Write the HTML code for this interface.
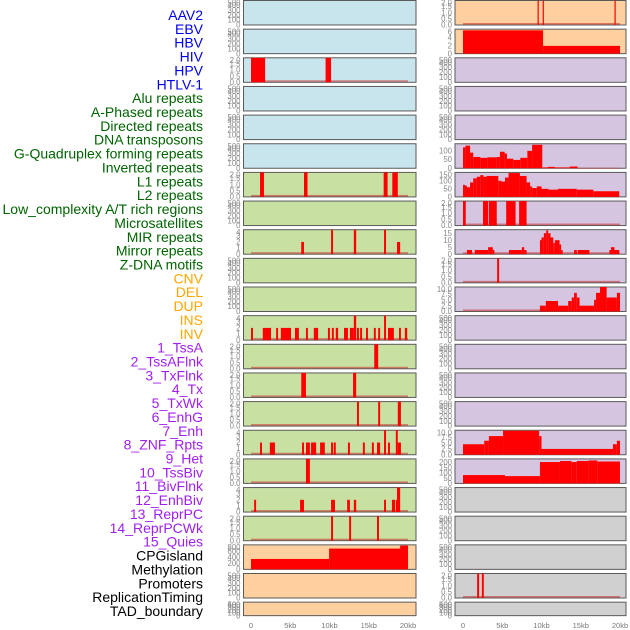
<!DOCTYPE html>
<html><head><meta charset="utf-8">
<style>
html,body{margin:0;padding:0;background:#fff;}
svg{display:block;}
.lab{font-family:"Liberation Sans",sans-serif;font-size:14px;}
.tk{font-family:"Liberation Sans",sans-serif;font-size:7.8px;fill:#888;}
.ax{font-family:"Liberation Sans",sans-serif;font-size:7.5px;fill:#777;}
</style></head>
<body>
<svg id="chart" width="630" height="630" viewBox="0 0 630 630" xmlns="http://www.w3.org/2000/svg">
<g id="labels"></g>
<g id="panels"></g>
<g id="xaxes"></g>
</svg>
<script>
// ---- labels ----
const labelNames = ["AAV2","EBV","HBV","HIV","HPV","HTLV-1","Alu repeats","A-Phased repeats","Directed repeats","DNA transposons","G-Quadruplex forming repeats","Inverted repeats","L1 repeats","L2 repeats","Low_complexity A/T rich regions","Microsatellites","MIR repeats","Mirror repeats","Z-DNA motifs","CNV","DEL","DUP","INS","INV","1_TssA","2_TssAFlnk","3_TxFlnk","4_Tx","5_TxWk","6_EnhG","7_Enh","8_ZNF_Rpts","9_Het","10_TssBiv","11_BivFlnk","12_EnhBiv","13_ReprPC","14_ReprPCWk","15_Quies","CPGisland","Methylation","Promoters","ReplicationTiming","TAD_boundary"];
const labelGroups = [6,13,5,15,5];
const groupColors = ["#0000ee","#006400","#ffa500","#a020f0","#000000"];

// ---- x axis ----
const xTicks = [0,5,10,15,20];
const xTickLabels = ["0","5kb","10kb","15kb","20kb"];

// ---- y tick sets ----
const ticks500 = [0,100,200,300,400,500];
const ticks2 = [0,0.5,1,1.5,2];
const ticks4 = [0,1,2,3,4];
const ticks6 = [0,2,4,6];
const ticks150 = [0,50,100,150];
const ticksGq = [0,50,100];
const ticks15 = [0,5,10,15];
const ticks10 = [0,2.5,5,7.5,10];
const ticks200 = [0,50,100,150,200];
const ticks800 = [0,200,400,600,800];

// ---- series: [startKb, endKb, value] ----
const hivL = [[0,1.8,2],[9.5,10.2,2]];
const l1L = [[1.15,1.65,2],[6.75,7.2,2],[16.9,17.4,2],[18.0,18.7,2]];
const mirL = [[6.4,6.75,2],[10.2,10.45,4],[13.1,13.4,4],[16.95,17.2,4],[18.6,19.0,2]];
const insL = [[0,0.25,2],[1.5,2.55,2],[3.2,3.45,2],[3.8,5.1,2],[5.6,6.1,2],[7.0,7.25,2],[8.0,8.55,2],[9.8,10.05,2],[10.3,10.55,2],[10.8,11.1,2],[11.85,12.35,2],[12.6,13.1,2],[13.1,13.4,4],[13.5,13.75,2],[13.9,14.15,2],[14.65,14.9,2],[15.65,15.9,2],[16.2,16.45,2],[16.95,17.2,4],[17.45,18.2,2],[18.85,19.1,2],[19.6,19.9,2]];
const tssaL = [[15.7,16.2,2]];
const txflnkL = [[6.4,7.0,2],[13.0,13.4,2]];
const txwkL = [[13.5,13.75,2],[16.2,16.45,2],[18.7,19.1,2]];
const enhL = [[1.15,1.4,2],[2.4,3.05,2],[6.5,6.75,2],[7.0,7.5,2],[7.65,8.3,2],[8.8,9.4,2],[10.2,10.45,2],[10.55,10.8,2],[12.35,12.6,2],[14.25,14.5,2],[15.4,15.65,2],[16.05,16.45,2],[16.95,17.2,4],[17.45,17.7,2],[18.45,18.7,4],[18.7,19.1,2]];
const hetL = [[7.0,7.5,2]];
const bivflnkL = [[0.4,0.65,2],[6.25,6.75,2],[10.2,10.7,2],[12.25,12.6,2],[13.1,13.4,2],[16.95,17.2,2],[17.95,18.35,2],[18.45,18.7,2],[18.6,19.0,4]];
const reprpcL = [[10.2,10.45,2],[12.5,12.75,2],[16.05,16.3,2]];
const cpgL = [[0,9.95,350],[9.95,20,700],[19.0,20,800]];

const aav2R = [[9.5,9.65,2],[10.15,10.3,2],[19.3,19.45,2]];
const ebvR = [[0,10.2,6],[10.2,20,2]];
const gquadR = [[0,0.3,120],[0.3,0.9,130],[0.9,1.3,90],[1.3,2.2,65],[2.2,3.1,60],[3.1,4.3,63],[4.3,4.7,65],[4.7,5.3,95],[5.3,5.6,85],[5.6,6.4,55],[6.4,7.3,48],[7.3,8.2,60],[8.2,8.8,100],[8.8,10.1,135],[10.1,10.8,5],[10.8,11.7,8],[11.7,13.6,5],[13.6,14.6,10],[14.6,19.9,2]];
const l1R = [[0,0.25,75],[0.25,0.5,70],[0.5,0.9,60],[0.9,1.3,90],[1.3,1.75,115],[1.75,2.2,125],[2.2,2.6,135],[2.6,3.0,125],[3.0,4.5,130],[4.5,4.9,100],[4.9,5.35,95],[5.35,5.8,120],[5.8,7.25,148],[7.25,8.1,130],[8.1,8.55,90],[8.55,8.8,65],[8.8,9.4,55],[9.4,10.0,65],[10.0,10.9,50],[10.9,12.1,45],[12.1,14.5,50],[14.5,16.6,45],[16.6,19.9,35]];
const lowcR = [[0,0.35,2],[2.55,3.2,2],[3.3,4.3,2],[5.5,6.7,2],[7.15,8.1,2]];
const mirR = [[0.5,1.15,3],[1.5,3.2,3],[3.2,3.8,5],[3.8,4.0,3],[5.85,7.5,3],[7.5,7.8,5],[7.8,8.1,3],[9.8,10.0,10],[10.0,10.3,12],[10.3,10.6,15],[10.6,10.85,17],[10.85,11.15,15],[11.15,11.5,12],[11.5,11.7,8],[11.7,12.3,10],[12.3,12.5,7],[12.5,12.7,3],[14.15,14.5,3],[14.6,16.1,3],[18.65,18.85,3],[18.85,19.3,5],[19.3,19.9,3]];
const mirrorR = [[4.35,4.6,2]];
const zdnaR = [[9.8,10.55,2.5],[10.55,12.1,4.5],[12.1,13.4,2.5],[13.4,13.85,4.5],[13.85,14.15,6],[14.15,14.5,8],[14.5,14.85,6],[14.85,16.7,2.5],[16.7,16.95,5],[16.95,17.45,8],[17.45,18.3,10.5],[18.3,19.6,6],[19.6,20,8]];
const enhR = [[0,2.7,4.5],[2.7,3.3,6],[3.3,5.1,8],[5.1,9.7,10.3],[9.7,10.0,8],[10.0,19.1,2.5],[19.1,19.6,4.5],[19.6,20,6]];
const znfR = [[0,5.35,80],[5.35,9.8,70],[9.8,12.35,205],[12.35,13.8,215],[13.8,14.5,205],[14.5,16.0,215],[16.0,17.1,220],[17.1,20,210]];
const promR = [[1.8,2.05,2],[2.4,2.65,2]];

const BLUE="#c8e4ec", GREEN="#c8e1a3", PEACH="#ffd09f", LAV="#d5c5e1", GREY="#d0d0d0";

const leftBg = r => r<6?BLUE:(r<19?GREEN:PEACH);
const rightBg = r => r<2?PEACH:(r<17?LAV:GREY);
const leftData = {2:[hivL,ticks2,1,2.0,true,"hiv"],6:[l1L,ticks2,1,2.0,true,"l1"],8:[mirL,ticks4,0,4,true,"mir"],11:[insL,ticks4,0,4,true,"ins"],12:[tssaL,ticks2,1,2.0,true,"tssa"],13:[txflnkL,ticks2,1,2.0,true,"txflnk"],14:[txwkL,ticks2,1,2.0,true,"txwk"],15:[enhL,ticks4,0,4,true,"enh"],16:[hetL,ticks2,1,2.0,true,"het"],17:[bivflnkL,ticks4,0,4,true,"bivflnk"],18:[reprpcL,ticks2,1,2.0,true,"reprpc"],19:[cpgL,ticks800,0,825,false,"cpgisland"]};
const rightData = {0:[aav2R,ticks2,1,2.0,true,"aav2"],1:[ebvR,ticks6,0,6.3,false,"ebv"],5:[gquadR,ticksGq,0,141,false,"gquad"],6:[l1R,ticks150,0,152,false,"l1"],7:[lowcR,ticks2,1,2.0,true,"lowcomplexity"],8:[mirR,ticks15,0,17.5,true,"mir"],9:[mirrorR,ticks2,1,2.0,true,"mirror"],10:[zdnaR,ticks10,1,10.5,true,"zdna"],15:[enhR,ticks10,1,10.5,false,"enh"],16:[znfR,ticks200,0,235,false,"znf"],20:[promR,ticks2,1,2.0,true,"promoters"]};

const NS="http://www.w3.org/2000/svg";
function mk(tag, attrs, parent){const e=document.createElementNS(NS,tag);for(const k in attrs)e.setAttribute(k,attrs[k]);parent.appendChild(e);return e;}

const lg=document.getElementById('labels');
let gi=0, gc=0;
labelNames.forEach((n,i)=>{
  if(gc>=labelGroups[gi]){gi++;gc=0;}
  gc++;
  const t=mk('text',{x:203,y:20+i*13.86,'text-anchor':'end',class:'lab',fill:groupColors[gi]},lg);
  
  
  t.textContent=n;
});

const pg=document.getElementById('panels');
const cols=[{x:243.5,w:172.5,x0:251},{x:455,w:171,x0:463}];
const KB=7.85;
for(let c=0;c<2;c++){
  for(let r=0;r<22;r++){
    const top=0.5+r*28.65, h=(r===21)?13.5:24.5;
    const col=cols[c];
    const d=(c===0?leftData:rightData)[r];
    const [series,ticks,dec,ymax,baseline,nm]=d||[[],ticks500,0,500,false,"empty"];
    const g=mk('g',{},pg);
    
    
    const bg=mk('rect',{x:col.x,y:top,width:col.w,height:h,fill:c===0?leftBg(r):rightBg(r),stroke:'#5a5a5a','stroke-width':1},g);
    
    
    const yS=v=>top+h-(v/ymax)*h;
    const xS=k=>col.x0+k*KB;
    if(baseline){
      const bl=mk('rect',{x:xS(0),y:top+h-2,width:xS(20)-xS(0),height:1.6,fill:'rgba(200,40,40,0.55)'},g);
      
      
    }
    series.forEach(s=>{
      const x1=xS(s[0]), x2=Math.min(xS(s[1]),col.x+col.w-0.5);
      const y=Math.max(yS(s[2]),top);
      const b=mk('rect',{x:x1,y:y,width:Math.max(x2-x1,1.2),height:top+h-y,fill:'#ff0000'},g);
      
      
    });
    ticks.forEach(v=>{
      const t=mk('text',{x:col.x-3,y:Math.min(Math.max(yS(v),top+2.5),top+h)+2.6,'text-anchor':'end',class:'tk'},g);
      
      
      t.textContent=dec?v.toFixed(1):String(v);
    });
  }
}
const xg=document.getElementById('xaxes');
for(let c=0;c<2;c++){
  xTicks.forEach((v,i)=>{
    const t=mk('text',{x:cols[c].x0+v*KB,y:628,'text-anchor':'middle',class:'ax'},xg);
    
    
    t.textContent=xTickLabels[i];
  });
}
</script>
</body></html>
